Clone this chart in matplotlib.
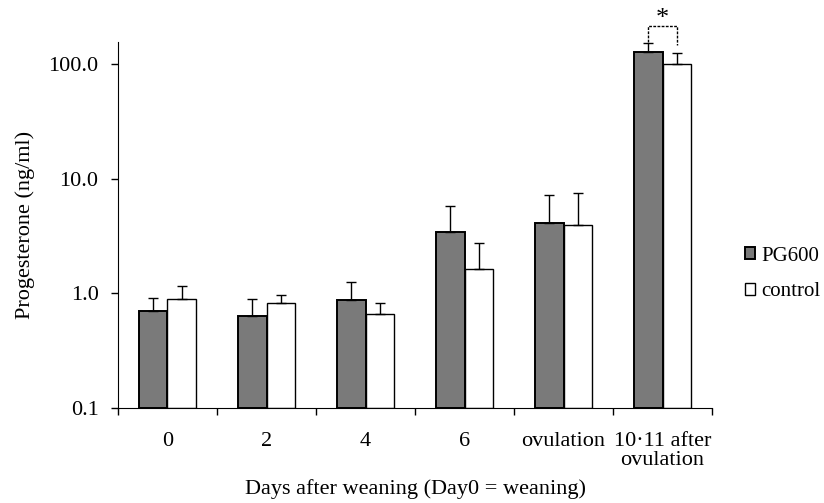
import matplotlib.pyplot as plt
import numpy as np

plt.rcParams['font.family'] = ['Liberation Serif', 'DejaVu Serif']

categories = ['0', '2', '4', '6', 'ovulation', '10\u00b711 after\novulation']
pg600 = [0.70, 0.64, 0.87, 3.40, 4.10, 128.0]
pg600_top = [0.91, 0.90, 1.26, 5.8, 7.24, 151.0]
control = [0.89, 0.83, 0.66, 1.64, 3.94, 100.0]
control_top = [1.16, 0.97, 0.83, 2.75, 7.44, 125.0]

x = np.arange(len(categories))
w = 0.285
base = 0.1

fig = plt.figure(figsize=(8.24, 5.03), dpi=100)
ax = fig.add_axes([0.1432, 0.1889, 0.7209, 0.7276])

pg = np.array(pg600)
ct = np.array(control)
ax.bar(x - w/2, pg - base, w, bottom=base, color='#7a7a7a', edgecolor='black', linewidth=1.4, label='PG600')
ax.bar(x + w/2, ct - base, w, bottom=base, color='white', edgecolor='black', linewidth=1.0, label='control')
ax.errorbar(x - w/2, pg, yerr=[np.zeros(len(pg)), np.array(pg600_top) - pg],
            fmt='none', ecolor='black', elinewidth=1.0, capsize=3.5, capthick=1.0)
ax.errorbar(x + w/2, ct, yerr=[np.zeros(len(ct)), np.array(control_top) - ct],
            fmt='none', ecolor='black', elinewidth=1.0, capsize=3.5, capthick=1.0)

ax.set_yscale('log')
ax.set_ylim(0.1, 155)
ax.set_xlim(-0.5, len(categories) - 0.5)
ax.set_yticks([0.1, 1, 10, 100])
ax.set_yticklabels(['0.1', '1.0', '10.0', '100.0'])
ax.yaxis.set_minor_locator(plt.NullLocator())
ax.tick_params(axis='y', direction='out', length=5, width=1, labelsize=16, pad=9)

ax.set_xticks(x)
ax.set_xticklabels(categories, linespacing=1.0)
ax.set_xticks(np.arange(len(categories) + 1) - 0.5, minor=True)
ax.tick_params(axis='x', which='major', length=0, labelsize=16, pad=17)
ax.tick_params(axis='x', which='minor', direction='out', length=5, width=1)

ax.spines['top'].set_visible(False)
ax.spines['right'].set_visible(False)

ax.set_xlabel('Days after weaning (Day0 = weaning)', fontsize=16)
ax.xaxis.set_label_coords(0.5, -0.195)
ax.set_ylabel('Progesterone (ng/ml)', fontsize=16)
ax.yaxis.set_label_coords(-0.14, 0.5)

# significance bracket over the last group
xl, xr = x[-1] - w/2, x[-1] + w/2
ax.plot([xl, xl, xr, xr], [155, 215, 215, 146], color='black', linewidth=1.0,
        linestyle=(0, (2, 1)), clip_on=False)
ax.text(x[-1], 245, '*', ha='center', va='center', fontsize=19, clip_on=False)

fig.legend(loc='center left', bbox_to_anchor=(0.904, 0.455), frameon=False,
           fontsize=15, handlelength=0.5, handleheight=0.5, handletextpad=0.3,
           labelspacing=0.8, borderpad=0, borderaxespad=0)

fig.savefig('out.png', dpi=100)
